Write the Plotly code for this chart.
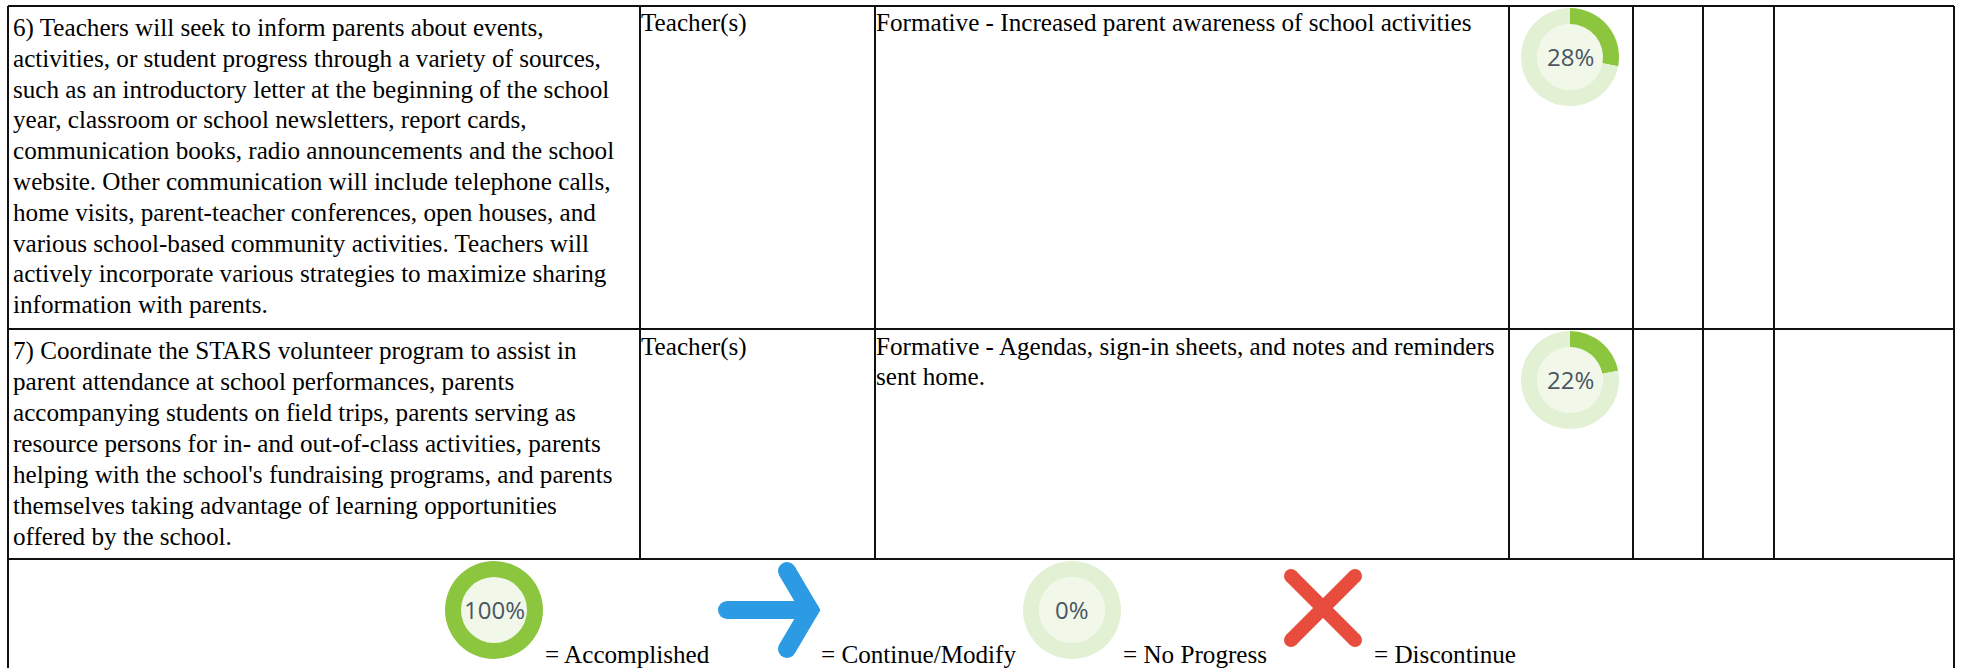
import plotly.graph_objects as go

# ---------- content ----------
row6_lines = [
    "6) Teachers will seek to inform parents about events,",
    "activities, or student progress through a variety of sources,",
    "such as an introductory letter at the beginning of the school",
    "year, classroom or school newsletters, report cards,",
    "communication books, radio announcements and the school",
    "website. Other communication will include telephone calls,",
    "home visits, parent-teacher conferences, open houses, and",
    "various school-based community activities. Teachers will",
    "actively incorporate various strategies to maximize sharing",
    "information with parents.",
]
row7_lines = [
    "7) Coordinate the STARS volunteer program to assist in",
    "parent attendance at school performances, parents",
    "accompanying students on field trips, parents serving as",
    "resource persons for in- and out-of-class activities, parents",
    "helping with the school's fundraising programs, and parents",
    "themselves taking advantage of learning opportunities",
    "offered by the school.",
]
responsible = ["Teacher(s)", "Teacher(s)"]
row6_formative = ["Formative - Increased parent awareness of school activities"]
row7_formative = ["Formative - Agendas, sign-in sheets, and notes and reminders", "sent home."]
progress_values = [28, 22]
legend_values = [100, 0]
legend_labels = ["= Accomplished", "= Continue/Modify", "= No Progress", "= Discontinue"]

# ---------- layout constants ----------
W, H = 1963, 668
COL = [8, 640, 875, 1509, 1633, 1703, 1774, 1954]
ROW = [6, 329, 559]
GREEN, PALE, CORE = "#8cc63f", "#e2f0d4", "#f1f8ea"
FS = 25.15
SERIF = "Liberation Serif"

fig = go.Figure()
shapes, notes = [], []


def text(x, y, s, size=FS, font=SERIF, color="#000", anchor="left"):
    notes.append(dict(x=x, y=y, xref="x", yref="y", text=s, showarrow=False, xanchor=anchor,
                      yanchor="middle", xshift=0, align="left", borderpad=0,
                      font=dict(family=font, size=size, color=color)))


def donut(cx, cy, value, label):
    R, r = 49, 33
    fig.add_trace(go.Pie(values=[value, 100 - value], hole=r / R, sort=False, direction="clockwise",
                         rotation=0, textinfo="none", hoverinfo="skip", showlegend=False,
                         marker=dict(colors=[GREEN, PALE], line=dict(width=0)),
                         domain=dict(x=[(cx - R) / W, (cx + R) / W], y=[1 - (cy + R) / H, 1 - (cy - R) / H])))
    shapes.append(dict(type="circle", xref="x", yref="y", x0=cx - r, x1=cx + r, y0=cy - r, y1=cy + r,
                       fillcolor=CORE, line=dict(width=0), layer="below"))
    text(cx, cy - 1, label, size=24, font="Open Sans", color="#4b5563", anchor="center")


# grid
LINE = dict(color="#111111", width=2)
for y in [ROW[0], ROW[1], ROW[2]]:
    shapes.append(dict(type="line", xref="x", yref="y", x0=COL[0], x1=COL[-1], y0=y, y1=y, line=LINE))
for x in COL[1:-1]:
    shapes.append(dict(type="line", xref="x", yref="y", x0=x, x1=x, y0=ROW[0], y1=ROW[2], line=LINE))
for x in (COL[0], COL[-1]):
    shapes.append(dict(type="line", xref="x", yref="y", x0=x, x1=x, y0=ROW[0], y1=H, line=LINE))

# cell text
for i, s in enumerate(row6_lines):
    text(12, 27.5 + 30.8 * i, s)
for i, s in enumerate(row7_lines):
    text(12, 351 + 30.9 * i, s)
text(640, 23, responsible[0])
text(640, 346.5, responsible[1])
for i, s in enumerate(row6_formative):
    text(875, 22.5 + 30 * i, s)
for i, s in enumerate(row7_formative):
    text(875, 346.5 + 30 * i, s)

# progress donuts
donut(1570, 57, progress_values[0], f"{progress_values[0]}%")
donut(1570, 380, progress_values[1], f"{progress_values[1]}%")

# legend donuts
donut(494, 610, legend_values[0], f"{legend_values[0]}%")
donut(1072, 610, legend_values[1], f"{legend_values[1]}%")

# legend arrow
ARROW = "#2d9be3"
fig.add_trace(go.Scatter(x=[727, 810, None, 787, 810, 787], y=[610, 610, None, 571, 610, 649],
                         mode="lines+markers", line=dict(color=ARROW, width=18), hoverinfo="skip",
                         marker=dict(color=ARROW, size=18), showlegend=False))
# legend cross
CROSS = "#e74c3c"
fig.add_trace(go.Scatter(x=[1291, 1355, None, 1355, 1291], y=[576, 640, None, 576, 640],
                         mode="lines+markers", line=dict(color=CROSS, width=14), hoverinfo="skip",
                         marker=dict(color=CROSS, size=14), showlegend=False))

# legend labels
for x, s in zip([544, 820, 1122, 1373], legend_labels):
    text(x, 654, s)

fig.update_layout(
    width=W, height=H, margin=dict(l=0, r=0, t=0, b=0), paper_bgcolor="#fff", plot_bgcolor="rgba(0,0,0,0)",
    xaxis=dict(range=[0, W], visible=False, fixedrange=True),
    yaxis=dict(range=[H, 0], visible=False, fixedrange=True),
    shapes=shapes, annotations=notes,
)
fig.write_html("out.html", config=dict(displayModeBar=False),
               post_script="document.body.style.margin='0';document.body.style.overflow='hidden';")
